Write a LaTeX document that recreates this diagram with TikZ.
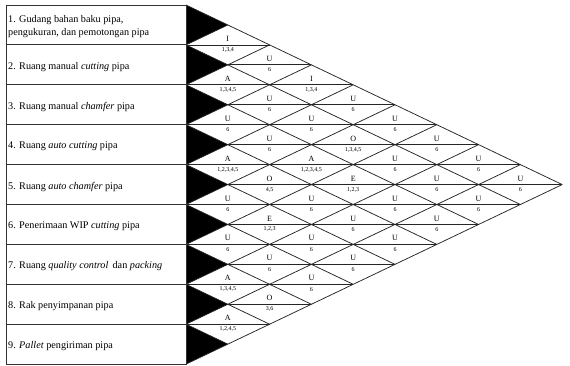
\documentclass[tikz,border=0pt]{standalone}
\usepackage{fontspec}
\setmainfont{Liberation Serif}
\begin{document}
\begin{tikzpicture}[x=1pt,y=-1pt,
  gridline/.style={draw=black!85,line width=0.75pt},
  tableline/.style={draw=black!80,line width=0.9pt},
  rowtext/.style={anchor=west,inner sep=0pt,font=\fontsize{10.2}{13}\selectfont,align=left},
  reltext/.style={inner sep=0pt,font=\fontsize{8}{8}\selectfont},
  reasontext/.style={inner sep=0pt,font=\fontsize{6}{6}\selectfont}]
\def\L{6}\def\R{186}\def\T{5}\def\H{39.9}\def\W{41.8}
\useasboundingbox (0,0) rectangle (570,365);
\fill[white] (0,0) rectangle (570,365);
% black triangles
\foreach \k in {1,...,9}
  \fill[black] (\R,{\T+(\k-1)*\H}) -- ({\R+\W},{\T+(\k-0.5)*\H}) -- (\R,{\T+\k*\H}) -- cycle;
% diagonal lines going down-right
\foreach \k in {0,...,8}
  \draw[gridline] (\R,{\T+\k*\H}) -- ({\R+(9-\k)*\W},{\T+\k*\H+(9-\k)*\H/2});
% diagonal lines going up-right
\foreach \k in {1,...,9}
  \draw[gridline] (\R,{\T+\k*\H}) -- ({\R+\k*\W},{\T+\k*\H/2});
% horizontal mid lines
\foreach \m in {2,...,16} {
  \pgfmathsetmacro\xs{iseven(\m) ? \R : \R+\W}
  \pgfmathsetmacro\xe{\R+min(\m,18-\m)*\W}
  \draw[gridline] (\xs,{\T+\m*\H/2}) -- (\xe,{\T+\m*\H/2});
}
% table
\draw[tableline] (\L,\T) rectangle (\R,{\T+9*\H});
\foreach \k in {1,...,8}
  \draw[tableline] (\L,{\T+\k*\H}) -- (\R,{\T+\k*\H});
% row texts
\node[rowtext] (r1) at (8,{\T+0.5*\H+1.5}) {1. Gudang bahan baku pipa,\\pengukuran, dan pemotongan pipa};
\node[rowtext] (r2) at (8,{\T+1.5*\H+2}) {2. Ruang manual \textit{cutting} pipa};
\node[rowtext] (r3) at (8,{\T+2.5*\H+2}) {3. Ruang manual \textit{chamfer} pipa};
\node[rowtext] (r4) at (8,{\T+3.5*\H+2}) {4. Ruang \textit{auto cutting} pipa};
\node[rowtext] (r5) at (8,{\T+4.5*\H+2}) {5. Ruang \textit{auto chamfer} pipa};
\node[rowtext] (r6) at (8,{\T+5.5*\H+2}) {6. Penerimaan WIP \textit{cutting} pipa};
\node[rowtext] (r7) at (8,{\T+6.5*\H+2}) {7. Ruang \textit{quality control}\, dan \textit{packing}};
\node[rowtext] (r8) at (8,{\T+7.5*\H+2}) {8. Rak penyimpanan pipa};
\node[rowtext] (r9) at (8,{\T+8.5*\H+2}) {9. \textit{Pallet} pengiriman pipa};
% relationship labels
\foreach \i/\j/\l/\n in {
  1/2/I/{1,3,4}, 2/3/A/{1,3,4,5}, 3/4/U/{6}, 4/5/A/{1,2,3,4,5}, 5/6/U/{6}, 6/7/U/{6}, 7/8/A/{1,3,4,5}, 8/9/A/{1,2,4,5},
  1/3/U/{6}, 2/4/U/{6}, 3/5/U/{6}, 4/6/O/{4,5}, 5/7/E/{1,2,3}, 6/8/U/{6}, 7/9/O/{3,6},
  1/4/I/{1,3,4}, 2/5/U/{6}, 3/6/A/{1,2,3,4,5}, 4/7/U/{6}, 5/8/U/{6}, 6/9/U/{6},
  1/5/U/{6}, 2/6/O/{1,3,4,5}, 3/7/E/{1,2,3}, 4/8/U/{6}, 5/9/U/{6},
  1/6/U/{6}, 2/7/U/{6}, 3/8/U/{6}, 4/9/U/{6},
  1/7/U/{6}, 2/8/U/{6}, 3/9/U/{6},
  1/8/U/{6}, 2/9/U/{6},
  1/9/U/{6}} {
  \pgfmathsetmacro\cx{\R+(\j-\i)*\W}
  \pgfmathsetmacro\cy{\T+(\i+\j-1)*\H/2}
  \node[reltext] (l\i\j) at (\cx,\cy-6) {\l};
  \node[reasontext] (n\i\j) at (\cx,\cy+5) {\n};
}
\end{tikzpicture}
\end{document}
